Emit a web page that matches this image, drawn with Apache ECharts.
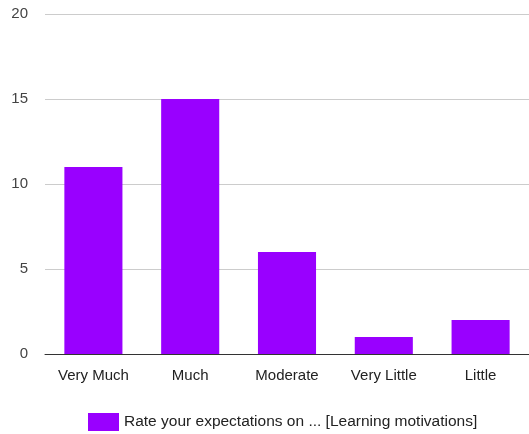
<!DOCTYPE html>
<html><head><meta charset="utf-8">
<script src="https://cdn.jsdelivr.net/npm/echarts@6/dist/echarts.min.js"></script>
<style>html,body{margin:0;padding:0;background:#fff}#c{width:529px;height:434px}</style>
</head><body><div id="c"></div>
<script>
const categories = ["Very Much", "Much", "Moderate", "Very Little", "Little"];
const values = [11, 15, 6, 1, 2];
const seriesName = "Rate your expectations on ... [Learning motivations]";
const chart = echarts.init(document.getElementById('c'), null, {renderer: 'canvas'});
chart.setOption({
  animation: false,
  textStyle: {fontFamily: 'Liberation Sans, Arial, sans-serif'},
  grid: {left: 45, right: -1, top: 14, bottom: 80},
  legend: {
    bottom: -2, left: 83, itemWidth: 31, itemHeight: 18, itemGap: 7,
    icon: 'rect',
    textStyle: {fontSize: 15.5, color: '#222', fontFamily: 'Liberation Sans, Arial, sans-serif'},
    data: [seriesName]
  },
  xAxis: {
    type: 'category', data: categories,
    axisLine: {lineStyle: {color: '#333', width: 1}},
    axisTick: {show: false},
    axisLabel: {fontSize: 15, color: '#222', margin: 14}
  },
  yAxis: {
    type: 'value', min: 0, max: 20, interval: 5,
    axisLine: {show: false}, axisTick: {show: false},
    splitLine: {lineStyle: {color: '#ccc'}},
    axisLabel: {fontSize: 15, color: '#444', margin: 17}
  },
  series: [{
    name: seriesName, type: 'bar', data: values, barWidth: '60%',
    itemStyle: {color: '#9900ff'}
  }]
});
</script></body></html>
